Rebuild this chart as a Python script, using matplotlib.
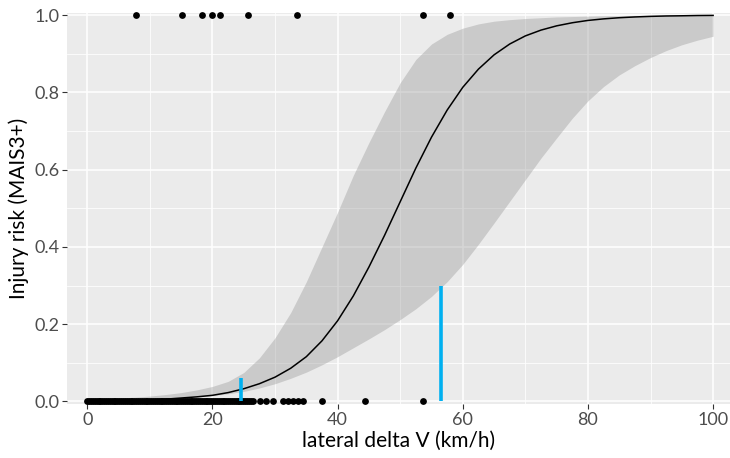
import numpy as np
import matplotlib.pyplot as plt

# fitted curve and confidence band, every 2.5 km/h
dv = [0, 2.5, 5, 7.5, 10, 12.5, 15, 17.5, 20, 22.5, 25, 27.5, 30, 32.5, 35, 37.5,
      40, 42.5, 45, 47.5, 50, 52.5, 55, 57.5, 60, 62.5, 65, 67.5, 70, 72.5, 75,
      77.5, 80, 82.5, 85, 87.5, 90, 92.5, 95, 97.5, 100]
risk = [0.001, 0.0015, 0.002, 0.003, 0.004, 0.006, 0.009, 0.012, 0.016, 0.023,
        0.033, 0.046, 0.063, 0.086, 0.116, 0.157, 0.209, 0.273, 0.348, 0.43,
        0.517, 0.604, 0.684, 0.754, 0.813, 0.86, 0.897, 0.925, 0.946, 0.961,
        0.972, 0.98, 0.986, 0.99, 0.993, 0.995, 0.9965, 0.9975, 0.998, 0.9987, 0.999]
risk_lo = [0.0003, 0.0005, 0.001, 0.002, 0.004, 0.007, 0.009, 0.012, 0.015, 0.02,
           0.026, 0.035, 0.046, 0.06, 0.076, 0.095, 0.116, 0.139, 0.162, 0.186,
           0.212, 0.24, 0.272, 0.31, 0.355, 0.407, 0.462, 0.518, 0.574, 0.63,
           0.682, 0.733, 0.778, 0.815, 0.845, 0.869, 0.89, 0.908, 0.923, 0.935, 0.945]
risk_hi = [0.004, 0.006, 0.009, 0.011, 0.014, 0.018, 0.023, 0.03, 0.039, 0.052,
           0.075, 0.113, 0.165, 0.23, 0.31, 0.4, 0.49, 0.585, 0.67, 0.75,
           0.825, 0.885, 0.925, 0.95, 0.966, 0.977, 0.984, 0.988, 0.991, 0.993,
           0.995, 0.996, 0.997, 0.998, 0.998, 0.999, 0.999, 1.0, 1.0, 1.0, 1.0]

# observed cases
injured_dv = [7.7, 15.2, 18.4, 20.0, 21.2, 25.6, 33.5, 53.7, 58.0]
uninjured_dv = [0, 0.3, 0.6, 0.9, 1.2, 1.5, 1.8, 2.1, 2.4, 2.7, 3, 3.3, 3.6, 3.9,
                4.2, 4.5, 4.8, 5.1, 5.4, 5.7, 6, 6.3, 6.6, 6.9, 7.2, 7.5, 7.8, 8.1,
                8.4, 8.7, 9, 9.3, 9.6, 9.9, 10.2, 10.5, 10.8, 11.1, 11.4, 11.7, 12,
                12.3, 12.6, 12.9, 13.2, 13.5, 13.8, 14.1, 14.4, 14.7, 15, 15.3, 15.6,
                15.9, 16.2, 16.5, 16.8, 17.1, 17.4, 17.7, 18, 18.3, 18.6, 18.9, 19.2,
                19.5, 19.8, 20.1, 20.4, 20.7, 21, 21.3, 21.6, 21.9, 22.2, 22.5, 22.8,
                23.1, 23.4, 23.7, 24, 24.3, 24.6, 24.9, 25.2, 25.5, 25.8, 26.1, 26.4,
                27.6, 28.5, 29.6, 31.3, 32.1, 32.9, 33.7, 34.5, 37.5, 44.4, 53.7]

# blue markers (x, top)
mark_x = [24.5, 56.5]
mark_top = [0.06, 0.3]

plt.rcParams['font.family'] = ['Lato', 'DejaVu Sans']

fig = plt.figure(figsize=(7.3, 4.58), dpi=100)
ax = fig.add_axes([67 / 730, 1 - 404 / 458, 663 / 730, (404 - 12.7) / 458])
ax.set_facecolor('#EBEBEB')

ax.set_xticks([0, 20, 40, 60, 80, 100])
ax.set_xticks([10, 30, 50, 70, 90], minor=True)
ax.set_yticks([0, 0.2, 0.4, 0.6, 0.8, 1.0])
ax.set_yticks([0.1, 0.3, 0.5, 0.7, 0.9], minor=True)
ax.set_yticklabels(['0.0', '0.2', '0.4', '0.6', '0.8', '1.0'])
ax.grid(which='major', color='white', lw=1.1)
ax.grid(which='minor', color='white', lw=0.55)
ax.set_axisbelow(True)
for sp in ax.spines.values():
    sp.set_visible(False)

ax.fill_between(dv, risk_lo, risk_hi, color='#999999', alpha=0.4, lw=0)
ax.plot(dv, risk, color='black', lw=1.1)
ax.scatter(injured_dv, np.ones(len(injured_dv)), s=24, color='black', zorder=3,
           clip_on=False, lw=0)
ax.scatter(uninjured_dv, np.zeros(len(uninjured_dv)), s=24, color='black', zorder=3,
           clip_on=False, lw=0)
ax.vlines(mark_x, 0, mark_top, color='#00B0F0', lw=2.6, zorder=4)

ax.set_xlim(-3.25, 102.7)
ax.set_ylim(-0.0065, 1.006)

ax.tick_params(which='major', length=3.5, width=0.8, color='#333333',
               labelcolor='#4D4D4D', labelsize=13, pad=2)
ax.tick_params(which='minor', length=0)
ax.set_xlabel('lateral delta V (km/h)', fontsize=15, labelpad=2)
ax.set_ylabel('Injury risk (MAIS3+)', fontsize=15, labelpad=4)

fig.savefig('out.png', dpi=100)
